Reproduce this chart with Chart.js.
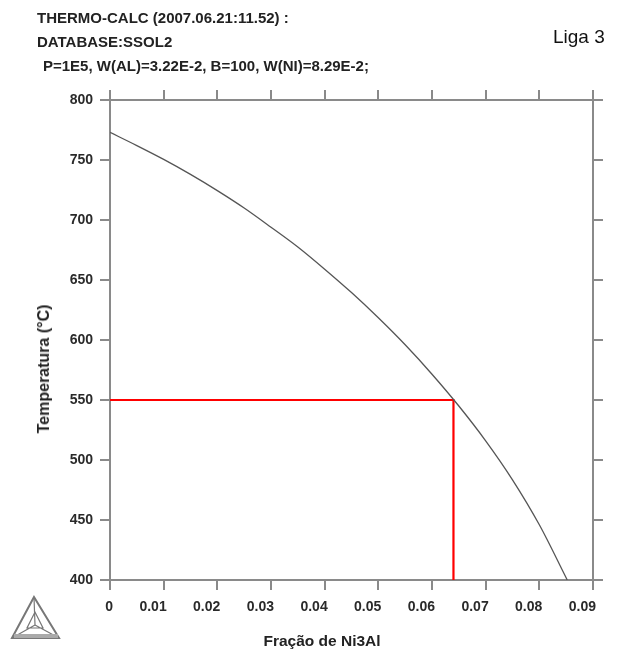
<!DOCTYPE html>
<html>
<head>
<meta charset="utf-8">
<script src="https://cdn.jsdelivr.net/npm/chart.js@4.4.0/dist/chart.umd.min.js"></script>
<style>
body { margin:0; background:#fff; }
#wrap { position:relative; width:618px; height:656px; }
.txt { position:absolute; white-space:nowrap; color:#222; font-family:"Liberation Sans",Arial,sans-serif; font-weight:bold; font-size:15px; line-height:18px; }
</style>
</head>
<body>
<div id="wrap">
  <canvas id="myChart"></canvas>
  <div class="txt" style="left:37px;top:9px;">THERMO-CALC (2007.06.21:11.52) :</div>
  <div class="txt" style="left:37px;top:33px;">DATABASE:SSOL2</div>
  <div class="txt" style="left:43px;top:57px;">P=1E5, W(AL)=3.22E-2, B=100, W(NI)=8.29E-2;</div>
  <div class="txt" style="left:553px;top:26px;font-weight:normal;font-size:19px;line-height:22px;color:#111;">Liga 3</div>
  <div class="txt" style="left:44px;top:369px;font-size:16px;transform:translate(-50%,-50%) rotate(-90deg);">Temperatura (°C)</div>
  <div class="txt" style="left:322px;top:641px;font-size:15.5px;transform:translate(-50%,-50%);">Fração de Ni3Al</div>
</div>
<script>
// curva de solubilidade (fração de Ni3Al x temperatura)
var fracao = [0, 0.005, 0.01, 0.015, 0.02, 0.025, 0.03, 0.035, 0.04, 0.045, 0.05, 0.055, 0.06, 0.065, 0.07, 0.075, 0.08, 0.0852];
var temperatura = [773, 762, 750.5, 738, 724.5, 710, 694, 677.5, 659, 639.5, 618.5, 596, 571.5, 545, 516, 483.5, 446, 400];

// linha vermelha de leitura em 550 C
var leituraX = [0, 0.064, 0.064];
var leituraY = [550, 550, 400];

var xTicks = [0, 0.01, 0.02, 0.03, 0.04, 0.05, 0.06, 0.07, 0.08, 0.09];
var yTicks = [400, 450, 500, 550, 600, 650, 700, 750, 800];

var myLineChart;

function pontos(xs, ys){
  var out = [];
  for (var i = 0; i < xs.length; i++) out.push({x: xs[i], y: ys[i]});
  return out;
}

function eixo(pos, lim, passo, labels, tam){
  var horiz = (pos == 'top' || pos == 'bottom');
  return {
    type: 'linear',
    position: pos,
    min: lim[0],
    max: lim[lim.length-1],
    afterBuildTicks: function(s){ s.ticks = lim.map(function(v){ return {value: v}; }); },
    afterFit: function(s){
      if (horiz) s.height = tam; else s.width = tam;
    },
    border: {display: true, color: '#8a8a8a', width: 2},
    grid: {drawOnChartArea: false, drawTicks: true, tickLength: 10, color: '#8a8a8a', lineWidth: 2},
    ticks: {
      display: labels,
      color: '#2a2a2a',
      padding: horiz ? 9 : 7,
      align: horiz ? 'end' : 'center',
      labelOffset: horiz ? 3 : 0,
      maxRotation: 0,
      font: {family: 'Liberation Sans', weight: 'bold', size: 14},
      callback: function(v){ return v === 0 ? '0' : (passo < 1 ? v.toFixed(2) : v); }
    }
  };
}

// logo do thermo-calc no canto
var logo = {
  id: 'logo',
  afterDraw: function(chart){
    var c = chart.ctx;
    var A = [34, 597], B = [12, 638], C = [59, 638], M = [35, 625];
    c.save();
    c.strokeStyle = '#777';
    c.lineWidth = 2;
    c.beginPath();
    c.moveTo(A[0], A[1]); c.lineTo(B[0], B[1]); c.lineTo(C[0], C[1]); c.closePath();
    c.stroke();
    c.lineWidth = 1.2;
    c.beginPath();
    c.moveTo(A[0], A[1]); c.lineTo(M[0], M[1]);
    c.moveTo(B[0], B[1]); c.lineTo(M[0], M[1]);
    c.moveTo(C[0], C[1]); c.lineTo(M[0], M[1]);
    c.moveTo(27, 628); c.lineTo(43, 628); c.lineTo(35, 612); c.closePath();
    c.stroke();
    c.fillStyle = '#aaa';
    c.fillRect(14, 634, 44, 4);
    c.restore();
  }
};

window.onload = function(){
  var ctx = document.getElementById('myChart');
  myLineChart = new Chart(ctx, {
    type: 'scatter',
    data: {
      datasets: [{
        data: pontos(fracao, temperatura),
        showLine: true,
        borderColor: '#555',
        borderWidth: 1.3,
        pointRadius: 0,
        cubicInterpolationMode: 'monotone'
      }, {
        data: pontos(leituraX, leituraY),
        showLine: true,
        borderColor: '#ff0000',
        borderWidth: 2.2,
        pointRadius: 0,
        tension: 0
      }]
    },
    options: {
      responsive: true,
      maintainAspectRatio: false,
      animation: false,
      layout: {padding: 0},
      plugins: {legend: {display: false}, tooltip: {enabled: false}},
      scales: {
        x: eixo('bottom', xTicks, 0.01, true, 76),
        y: eixo('left', yTicks, 50, true, 110),
        x2: Object.assign(eixo('top', xTicks, 0.01, false, 100), {axis: 'x'}),
        y2: Object.assign(eixo('right', yTicks, 50, false, 25), {axis: 'y'})
      }
    },
    plugins: [logo]
  });
};
</script>
</body>
</html>
